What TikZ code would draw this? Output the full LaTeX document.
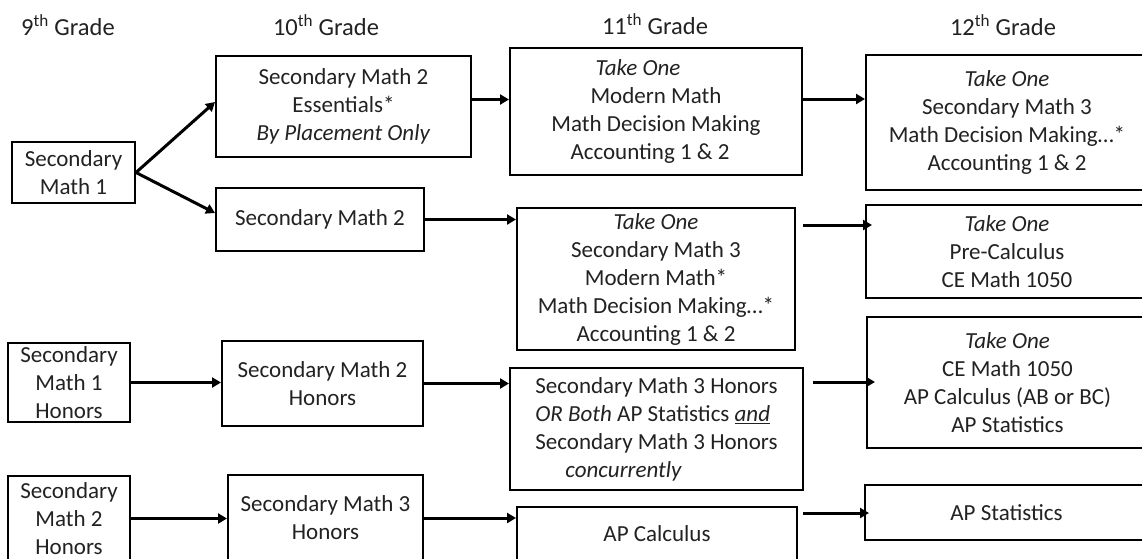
\documentclass[tikz,border=0pt]{standalone}
\usepackage{fontspec}
\setmainfont{Carlito}
\usetikzlibrary{arrows.meta}
\definecolor{txt}{HTML}{222222}
\begin{document}
\begin{tikzpicture}[x=1pt,y=-1pt,
  every node/.style={font=\fontsize{23}{28}\selectfont, text=txt},
  cbox/.style={draw=black, line width=2pt, rectangle, inner sep=0pt, align=center},
  hdr/.style={inner sep=0pt, font=\fontsize{24.5}{28}\selectfont},
  arr/.style={line width=3pt, -{Triangle[length=9pt,width=10pt]}}]
\useasboundingbox (0,0) rectangle (1142,558);
\fill[white] (0,0) rectangle (1142,558);
\clip (0,0) rectangle (1142,558);

% headers
\node[hdr] (h9)  at (68,25)   {9\textsuperscript{th} Grade};
\node[hdr] (h10) at (326,25)  {10\textsuperscript{th} Grade};
\node[hdr] (h11) at (655,24)  {11\textsuperscript{th} Grade};
\node[hdr] (h12) at (1003,25) {12\textsuperscript{th} Grade};

% 9th grade
\node[cbox, minimum width=123pt, minimum height=61pt] (s1) at (73.5,172.5) {Secondary\\Math 1};
\node[cbox, minimum width=122pt, minimum height=79pt] (s1h) at (69,382.5) {Secondary\\Math 1\\Honors};
\node[cbox, minimum width=122pt, minimum height=85pt] (s2h9) at (69,518.5) {Secondary\\Math 2\\Honors};

% 10th grade
\node[cbox, minimum width=255pt, minimum height=101pt] (s2e) at (343.5,106.5) {Secondary Math 2\\Essentials*\\\textit{By Placement Only}};
\node[cbox, minimum width=208pt, minimum height=63pt] (s2) at (320,219.5) {Secondary Math 2};
\node[cbox, minimum width=201pt, minimum height=85pt] (s2h) at (322.5,383.5) {Secondary Math 2\\Honors};
\node[cbox, minimum width=195pt, minimum height=86pt] (s3h) at (325.5,518) {Secondary Math 3\\Honors};

% 11th grade
\node[cbox, minimum width=292pt, minimum height=127pt] (e11a) at (656,111.5)
  {\textit{Take One}\hspace*{36pt}\\Modern Math\hspace*{42pt}\\Math Decision Making\hspace*{4pt}\\Accounting 1 \& 2\hspace*{12pt}};
\node[cbox, minimum width=278pt, minimum height=142pt] (e11b) at (656,279)
  {\textit{Take One}\\Secondary Math 3\\Modern Math*\\Math Decision Making…*\\Accounting 1 \& 2};
\node[cbox, align=left, minimum width=293pt, minimum height=122pt] (e11c) at (656.5,429)
  {Secondary Math 3 Honors\\\textit{OR Both} AP Statistics \underline{\textit{and}}\\Secondary Math 3 Honors\\\hspace*{30pt}\textit{concurrently}};
\node[cbox, minimum width=280pt, minimum height=54pt] (apc) at (657,534) {AP Calculus};

% 12th grade
\node[cbox, minimum width=282pt, minimum height=135pt] (t12a) at (1007,122.5)
  {\textit{Take One}\\Secondary Math 3\\Math Decision Making…*\\Accounting 1 \& 2};
\node[cbox, minimum width=282pt, minimum height=93pt] (t12b) at (1007,251.5)
  {\textit{Take One}\\Pre-Calculus\\CE Math 1050};
\node[cbox, minimum width=281pt, minimum height=131pt] (t12c) at (1007.5,382.5)
  {\textit{Take One}\\CE Math 1050\\AP Calculus (AB or BC)\\AP Statistics};
\node[cbox, minimum width=283pt, minimum height=55pt] (aps) at (1006.5,512.5) {AP Statistics};

% connectors
\draw[arr] (s1.east) -- ([yshift=4.5pt]s2e.west);
\draw[arr] (s1.east) -- ([yshift=6.5pt]s2.west);
\draw[arr] ([yshift=7pt]s2e.east) -- ([yshift=7pt]s2e.east -| e11a.west);
\draw[arr] ([yshift=12.5pt]e11a.east) -- ([yshift=12.5pt]e11a.east -| t12a.west);
\draw[arr] (s2.east) -- (s2.east -| e11b.west);
\draw[arr] ([xshift=7pt,yshift=54pt]e11b.east) -- ([xshift=7pt,yshift=54pt]e11b.east -| t12b.west);
\draw[arr] (s1h.east) -- (s1h.east -| s2h.west);
\draw[arr] (s2h.east) -- (s2h.east -| e11c.west);
\draw[arr] ([xshift=9pt,yshift=47pt]e11c.east) -- ([xshift=9pt,yshift=47pt]e11c.east -| t12c.west);
\draw[arr] (s2h9.east) -- (s2h9.east -| s3h.west);
\draw[arr] (s3h.east) -- (s3h.east -| apc.west);
\draw[arr] ([xshift=5pt,yshift=21pt]apc.east) -- ([xshift=5pt,yshift=21pt]apc.east -| aps.west);
\end{tikzpicture}
\end{document}
